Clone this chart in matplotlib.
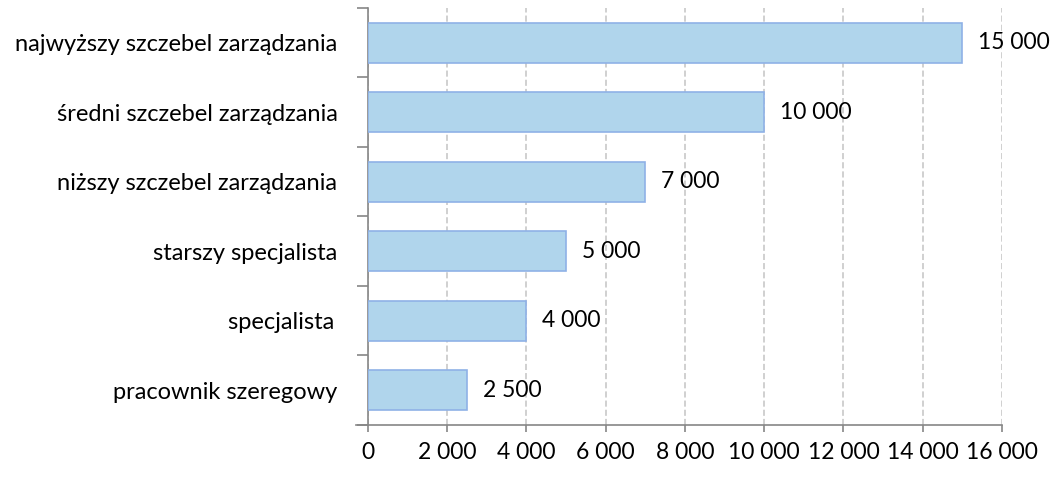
import numpy as np
import matplotlib.pyplot as plt
from matplotlib.ticker import FuncFormatter, MultipleLocator

plt.rcParams['font.family'] = ['Lato', 'DejaVu Sans']

categories = ['pracownik szeregowy', 'specjalista\u2009', 'starszy specjalista',
              'niższy szczebel zarządzania', 'średni szczebel zarządzania',
              'najwyższy szczebel zarządzania']
values = [2500, 4000, 5000, 7000, 10000, 15000]

def pl_thousands(v, pos=None):
   return '{:,.0f}'.format(v).replace(',', ' ')

fig = plt.figure(figsize=(10.61, 4.84), dpi=100)
ax = fig.add_axes([0.3468, 0.1219, 0.5976, 0.8616])

y = np.arange(len(categories))
ax.barh(y, values, height=0.58, color='#B0D5EC', edgecolor='#8FB1E6', linewidth=1.2, zorder=3)

for yi, v in zip(y, values):
   ax.annotate(pl_thousands(v), (v, yi), xytext=(11.5, 0), textcoords='offset points',
               va='center', ha='left', fontsize=16.5, color='black')

ax.set_xlim(0, 16000)
ax.set_ylim(-0.5, len(categories) - 0.5)
ax.xaxis.set_major_locator(MultipleLocator(2000))
ax.xaxis.set_major_formatter(FuncFormatter(pl_thousands))

# category labels sit between the boundary ticks
ax.set_yticks(np.arange(-0.5, len(categories), 1.0))
ax.set_yticklabels([])
ax.set_yticks(y, minor=True)
ax.set_yticklabels(categories, minor=True)
ax.tick_params(axis='y', which='major', length=8, width=1.2, color='#868686', direction='out')
ax.tick_params(axis='y', which='minor', length=0, pad=22, labelsize=17)
ax.tick_params(axis='x', length=5, width=1.2, color='#868686', pad=7, labelsize=16.5)

ax.grid(axis='x', color='#C3C3C3', linestyle=(0, (4, 2)), linewidth=1.1, zorder=0)
for s in ['top', 'right']:
   ax.spines[s].set_visible(False)
for s in ['left', 'bottom']:
   ax.spines[s].set_color('#868686')
   ax.spines[s].set_linewidth(1.2)
ax.spines['bottom'].set_bounds(-300, 16000)

plt.savefig('out.png', dpi=100)
